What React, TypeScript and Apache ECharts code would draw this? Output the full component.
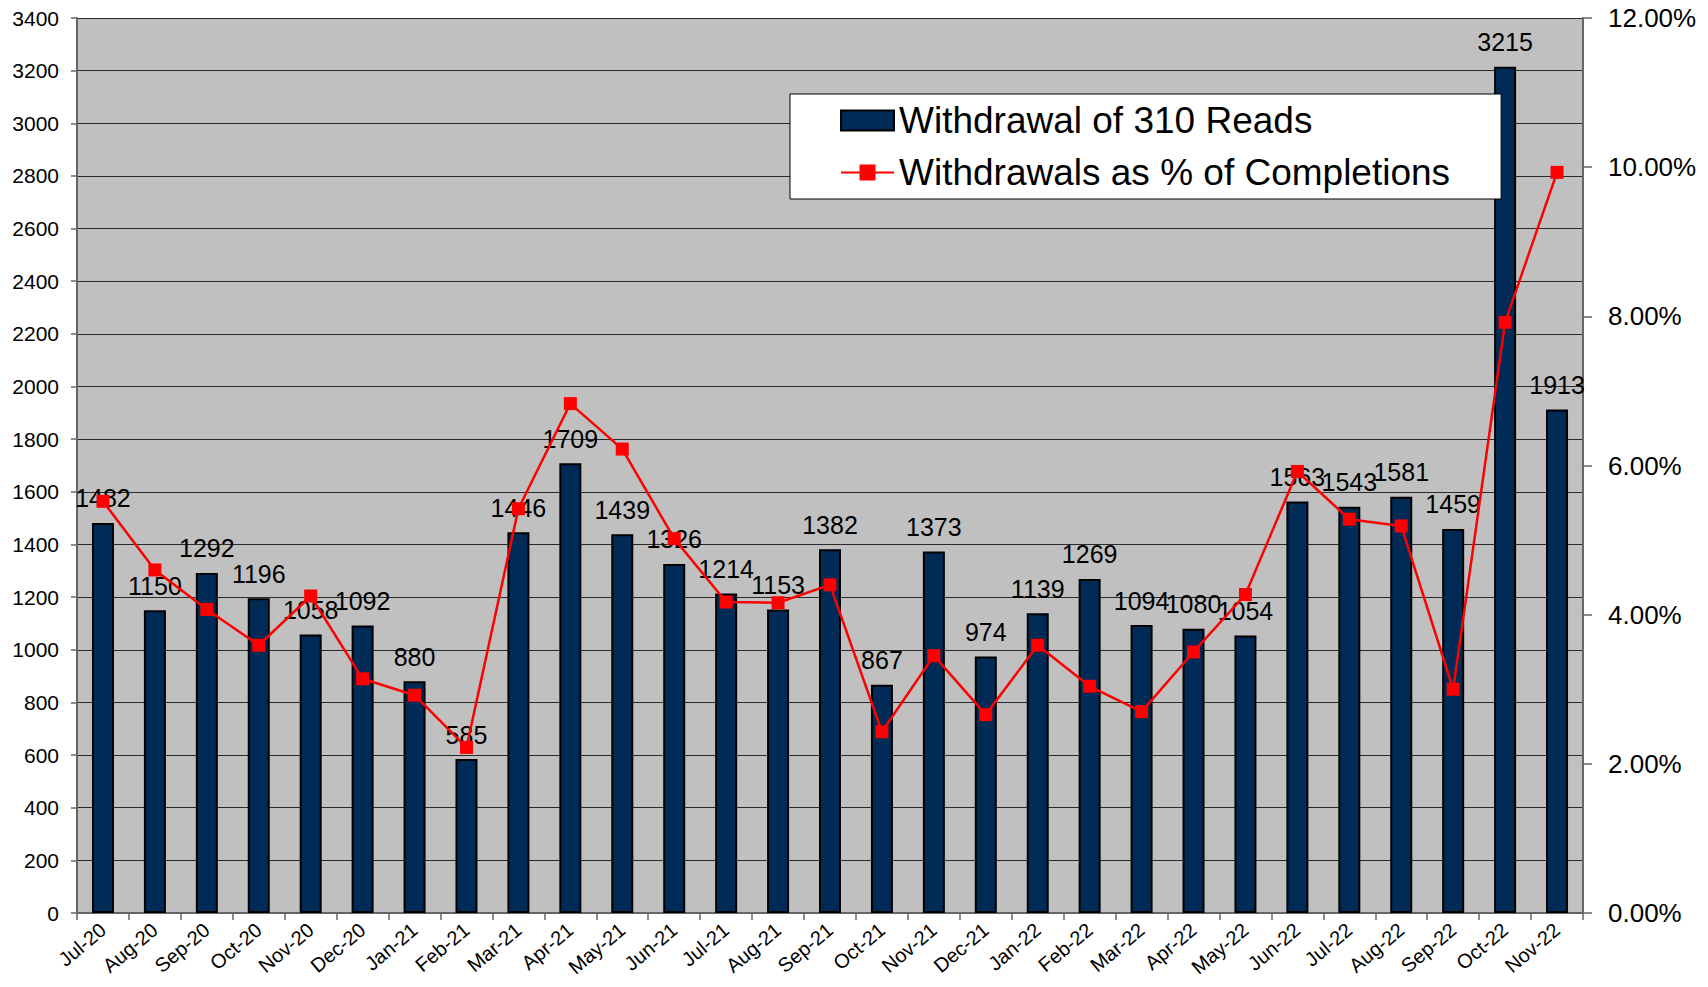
import React, { useEffect, useRef } from "react";
import * as echarts from "echarts";

const categories = [
  "Jul-20", "Aug-20", "Sep-20", "Oct-20", "Nov-20", "Dec-20",
  "Jan-21", "Feb-21", "Mar-21", "Apr-21", "May-21", "Jun-21",
  "Jul-21", "Aug-21", "Sep-21", "Oct-21", "Nov-21", "Dec-21",
  "Jan-22", "Feb-22", "Mar-22", "Apr-22", "May-22", "Jun-22",
  "Jul-22", "Aug-22", "Sep-22", "Oct-22", "Nov-22",
];

const withdrawals = [
  1482, 1150, 1292, 1196, 1058, 1092,
  880, 585, 1446, 1709, 1439, 1326,
  1214, 1153, 1382, 867, 1373, 974,
  1139, 1269, 1094, 1080, 1054, 1563,
  1543, 1581, 1459, 3215, 1913,
];

const pctOfCompletions = [
  5.52, 4.60, 4.07, 3.59, 4.25, 3.14,
  2.92, 2.22, 5.42, 6.83, 6.22, 5.02,
  4.17, 4.16, 4.40, 2.43, 3.45, 2.66,
  3.59, 3.04, 2.70, 3.50, 4.27, 5.92,
  5.28, 5.19, 3.00, 7.92, 9.93,
];

const barName = "Withdrawal of 310 Reads";
const lineName = "Withdrawals as % of Completions";

const FONT = "'Liberation Sans', Arial, sans-serif";

export default function App() {
  const ref = useRef<HTMLDivElement>(null);

  useEffect(() => {
    if (!ref.current) return;
    const chart = echarts.init(ref.current, undefined, { renderer: "svg" });
    chart.setOption({
      animation: false,
      backgroundColor: "#ffffff",
      textStyle: { fontFamily: FONT },
      grid: { left: 77, right: 125, top: 18, bottom: 74, containLabel: false,
        show: true, backgroundColor: "#c0c0c0", borderWidth: 0 },
      legend: {
        left: 790,
        top: 94,
        orient: "vertical",
        backgroundColor: "#ffffff",
        borderColor: "#000000",
        borderWidth: 1,
        padding: [8, 51, 8, 50],
        itemGap: 15,
        itemWidth: 53,
        itemHeight: 20,
        textStyle: { fontFamily: FONT, fontSize: 37, color: "#000", lineHeight: 37 },
        data: [
          { name: barName, icon: "rect" },
          { name: lineName },
        ],
      },
      xAxis: {
        type: "category",
        data: categories,
        axisLine: { lineStyle: { color: "#666", width: 2 } },
        axisTick: { show: true, length: 7, lineStyle: { color: "#666", width: 1.5 } },
        axisLabel: { rotate: 40, margin: 14, fontSize: 20, color: "#000", fontFamily: FONT, interval: 0 },
        splitLine: { show: false },
      },
      yAxis: [
        {
          type: "value",
          min: 0,
          max: 3400,
          interval: 200,
          axisLine: { show: true, lineStyle: { color: "#666", width: 2 } },
          axisTick: { show: true, length: 6, lineStyle: { color: "#666", width: 1.5 } },
          axisLabel: { fontSize: 21, color: "#000", margin: 18, fontFamily: FONT,
            formatter: (v: number) => String(v) },
          splitLine: { show: true, lineStyle: { color: "#2a2a2a", width: 1.2 } },
        },
        {
          type: "value",
          min: 0,
          max: 12,
          interval: 2,
          position: "right",
          axisLine: { show: true, lineStyle: { color: "#666", width: 2 } },
          axisTick: { show: true, length: 9, lineStyle: { color: "#666", width: 1.5 } },
          axisLabel: {
            fontSize: 26, color: "#000", margin: 25, fontFamily: FONT,
            formatter: (v: number) => v.toFixed(2) + "%",
          },
          splitLine: { show: false },
        },
      ],
      series: [
        {
          name: barName,
          type: "bar",
          data: withdrawals,
          barWidth: 22,
          itemStyle: { color: "#002b57", borderColor: "#000", borderWidth: 2 },
          label: {
            show: true,
            position: "top",
            distance: 12,
            fontSize: 25,
            color: "#000",
            fontFamily: FONT,
          },
          z: 2,
        },
        {
          name: lineName,
          type: "line",
          yAxisIndex: 1,
          data: pctOfCompletions,
          symbol: "rect",
          symbolSize: 13,
          lineStyle: { color: "#ff0000", width: 2.5 },
          itemStyle: { color: "#ff0000" },
          z: 3,
        },
      ],
    });
    return () => chart.dispose();
  }, []);

  return (
    <div
      ref={ref}
      style={{ position: "absolute", left: 0, top: 0, width: 1708, height: 987 }}
    />
  );
}
